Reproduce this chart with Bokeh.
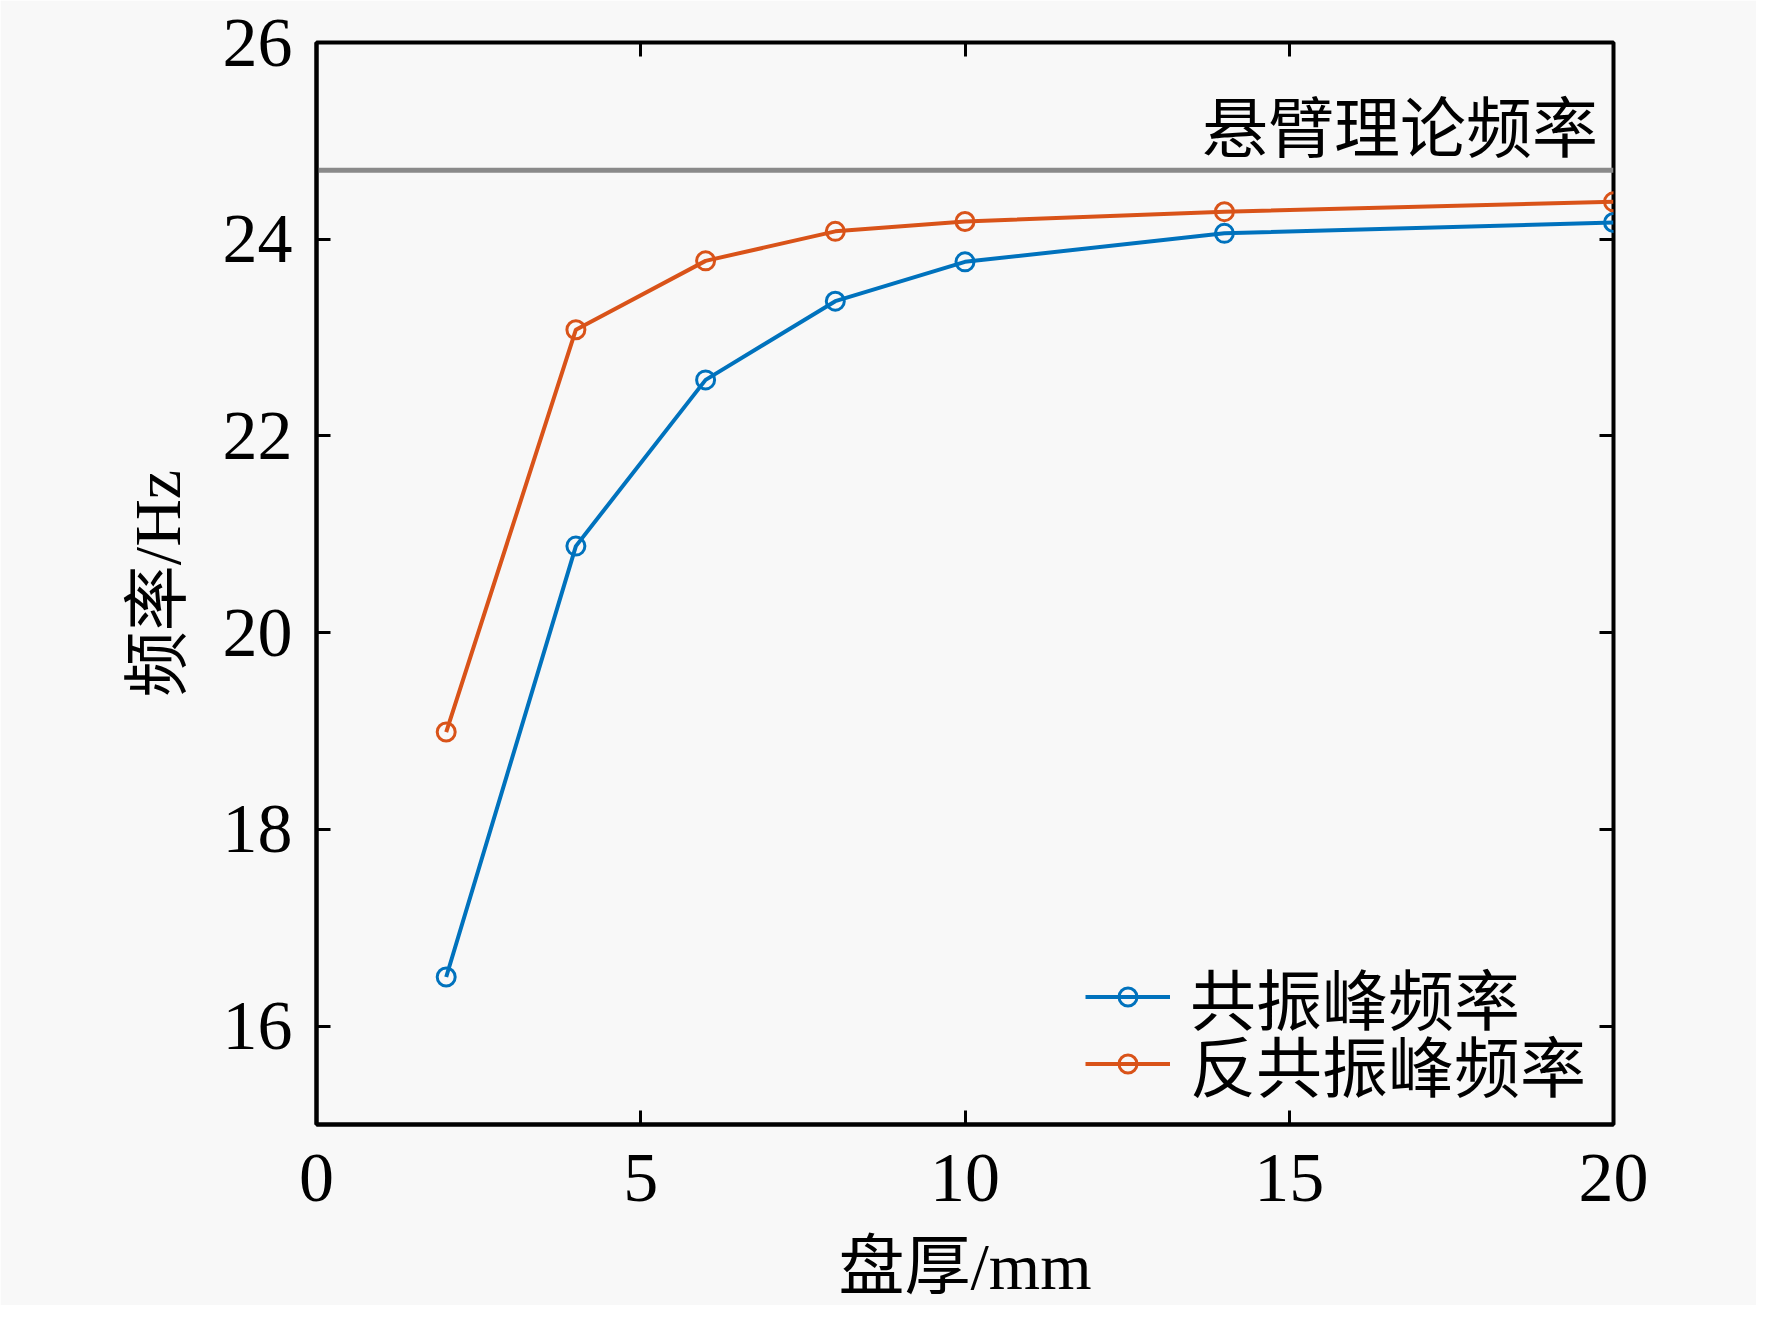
from bokeh.plotting import figure
from bokeh.models import LinearAxis, FixedTicker, Legend, LegendItem
from bokeh.core.properties import value
from bokeh.embed import file_html
from bokeh.resources import INLINE

# data
thickness = [2, 4, 6, 8, 10, 14, 20]
resonance = [16.5, 20.88, 22.57, 23.37, 23.77, 24.06, 24.17]
antiresonance = [18.99, 23.08, 23.78, 24.08, 24.18, 24.28, 24.38]
theory_x = [0, 20]
theory_freq = [24.7, 24.7]
theory_label = "悬臂理论频率"
series_names = ["共振峰频率", "反共振峰频率"]
x_ticks = [0, 5, 10, 15, 20]
y_ticks = [16, 18, 20, 22, 24, 26]
x_title = "盘厚/mm"
y_title = "频率/Hz"

FONT = "Liberation Serif, Noto Sans CJK SC"
BG = "#f8f8f8"
BLUE = "#0072BD"
ORANGE = "#D95319"

p = figure(width=1756, height=1305, x_range=(0, 20), y_range=(15, 26),
           output_backend="svg", toolbar_location=None,
           min_border_left=316, min_border_top=42, min_border_right=143, min_border_bottom=177)
p.background_fill_color = BG
p.border_fill_color = BG
p.outline_line_color = "black"
p.outline_line_width = 4
p.grid.visible = False

for ax in p.xaxis + p.yaxis:
    ax.major_tick_in = 14
    ax.major_tick_out = 0
    ax.minor_tick_line_color = None
    ax.axis_line_width = 4
    ax.major_tick_line_width = 3
    ax.major_label_text_font = FONT
    ax.major_label_text_font_size = "70px"
    ax.major_label_text_color = "black"
    ax.axis_label_text_font = FONT
    ax.axis_label_text_font_size = "66px"
    ax.axis_label_text_font_style = "normal"
    ax.axis_label_text_color = "black"

p.xaxis.ticker = FixedTicker(ticks=x_ticks)
p.yaxis.ticker = FixedTicker(ticks=y_ticks)
p.xaxis.axis_label = x_title
p.yaxis.axis_label = y_title
p.xaxis.major_label_standoff = 30
p.xaxis.axis_label_standoff = 26
p.yaxis.major_label_standoff = 24
p.yaxis.axis_label_standoff = 26

# mirrored ticks
top = LinearAxis(ticker=FixedTicker(ticks=x_ticks),
                 major_label_overrides={t: "" for t in x_ticks})
right = LinearAxis(ticker=FixedTicker(ticks=y_ticks),
                   major_label_overrides={t: "" for t in y_ticks})
for ax in (top, right):
    ax.major_tick_in = 14
    ax.major_tick_out = 0
    ax.minor_tick_line_color = None
    ax.major_tick_line_width = 3
    ax.axis_line_color = None
    ax.major_label_standoff = 0
p.add_layout(top, "above")
p.add_layout(right, "right")

# theory line
p.line(theory_x, theory_freq, line_color="#8a8a8a", line_width=5)
p.text(x=[19.76], y=[25.12], text=[theory_label], text_font=value(FONT),
       text_font_size="66px", text_align="right", text_baseline="alphabetic", text_color="black")

r1 = p.line(thickness, resonance, line_color=BLUE, line_width=4)
m1 = p.scatter(thickness, resonance, marker="circle", size=18, fill_color=None,
               line_color=BLUE, line_width=3)
r2 = p.line(thickness, antiresonance, line_color=ORANGE, line_width=4)
m2 = p.scatter(thickness, antiresonance, marker="circle", size=18, fill_color=None,
               line_color=ORANGE, line_width=3)


def make_legend(label, renderers, y_off):
    lg = Legend(items=[LegendItem(label=label, renderers=renderers)], location=(769, y_off))
    lg.label_text_font = FONT
    lg.label_text_font_size = "66px"
    lg.label_text_color = "black"
    lg.glyph_width = 85
    lg.glyph_height = 45
    lg.label_height = 45
    lg.label_standoff = 20
    lg.padding = 0
    lg.margin = 0
    lg.border_line_color = None
    lg.background_fill_alpha = 0
    return lg


p.add_layout(make_legend(series_names[0], [r1, m1], 80), "center")
p.add_layout(make_legend(series_names[1], [r2, m2], 13), "center")

open("out.html", "w").write(file_html(p, INLINE))
